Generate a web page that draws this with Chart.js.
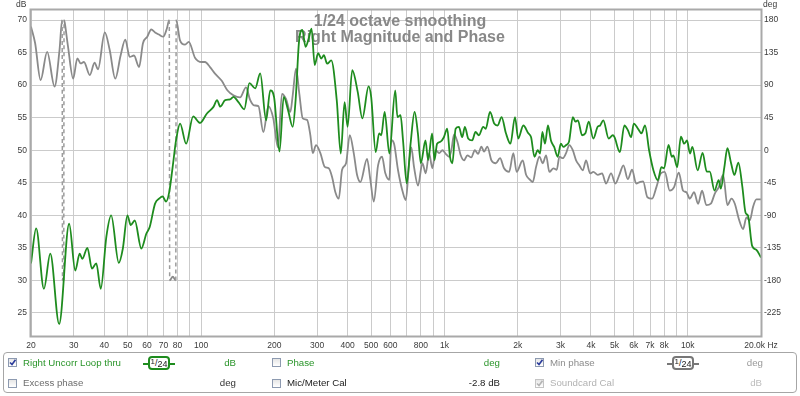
<!DOCTYPE html>
<html>
<head>
<meta charset="utf-8">
<script src="https://cdn.jsdelivr.net/npm/chart.js@4/dist/chart.umd.min.js"></script>
<style>
  body { margin: 0; background: #fff; }
  #wrap { position: relative; width: 800px; height: 396px; font-family: "Liberation Sans", Arial, sans-serif; }
  #c { position: absolute; left: 0; top: 0; }
  #panel { position: absolute; left: 3px; top: 352px; width: 794px; height: 41px; box-sizing: border-box;
           border: 1px solid #a6a6a6; border-radius: 4px; }
  .t { position: absolute; height: 12px; line-height: 12px; font-size: 9.7px; white-space: nowrap; }
  .r { text-align: right; }
  .cb { position: absolute; width: 9px; height: 9px; box-sizing: border-box; border: 1px solid #8d9ab0;
        background: linear-gradient(#e6e6e6, #ffffff); }
  .cb svg { position: absolute; left: 0; top: 0; }
  .badge { position: absolute; height: 14px; width: 22px; box-sizing: border-box; border: 2px solid #1e8c1e;
           border-radius: 4px; background: #fff; font-size: 9px; line-height: 10px; text-align: center; color: #222; }
  .badge .sup { position: relative; top: -2px; font-size: 8px; }
  .badge .sub { position: relative; top: 1px; }
  .stub { position: absolute; height: 2px; width: 5px; }
</style>
</head>
<body>
<div id="wrap">
  <canvas id="c" width="800" height="396"></canvas>
  <div id="panel"></div>

  <!-- row 1 -->
  <div class="cb" style="left:8px;top:358px"><svg width="7" height="7"><path d="M1 3.5 L3 5.5 L6.5 0.8" stroke="#2b3c9c" stroke-width="1.6" fill="none"/></svg></div>
  <div class="t" style="left:23px;top:357px;color:#2a952a">Right Uncorr Loop thru</div>
  <div class="stub" style="left:143px;top:362.5px;background:#1e8c1e"></div>
  <div class="badge" style="left:148px;top:356px"><span class="sup">1</span>/<span class="sub">24</span></div>
  <div class="stub" style="left:170px;top:362.5px;background:#1e8c1e"></div>
  <div class="t r" style="left:200px;width:36px;top:357px;color:#2a952a">dB</div>
  <div class="cb" style="left:272px;top:358px"></div>
  <div class="t" style="left:287px;top:357px;color:#2a952a">Phase</div>
  <div class="t r" style="left:460px;width:40px;top:357px;color:#2a952a">deg</div>
  <div class="cb" style="left:535px;top:358px"><svg width="7" height="7"><path d="M1 3.5 L3 5.5 L6.5 0.8" stroke="#2b3c9c" stroke-width="1.6" fill="none"/></svg></div>
  <div class="t" style="left:550px;top:357px;color:#8c8c8c">Min phase</div>
  <div class="stub" style="left:667px;top:362.5px;background:#777"></div>
  <div class="badge" style="left:672px;top:356px;border-color:#777"><span class="sup">1</span>/<span class="sub">24</span></div>
  <div class="stub" style="left:694px;top:362.5px;background:#777"></div>
  <div class="t r" style="left:720px;width:43px;top:357px;color:#999">deg</div>

  <!-- row 2 -->
  <div class="cb" style="left:8px;top:379px"></div>
  <div class="t" style="left:23px;top:377px;color:#6e6e6e">Excess phase</div>
  <div class="t r" style="left:200px;width:36px;top:377px;color:#333">deg</div>
  <div class="cb" style="left:272px;top:379px"></div>
  <div class="t" style="left:287px;top:377px;color:#222">Mic/Meter Cal</div>
  <div class="t r" style="left:440px;width:60px;top:377px;color:#222">-2.8 dB</div>
  <div class="cb" style="left:535px;top:379px;border-color:#c4c4c4"><svg width="7" height="7"><path d="M1 3.5 L3 5.5 L6.5 0.8" stroke="#b4b4b4" stroke-width="1.6" fill="none"/></svg></div>
  <div class="t" style="left:550px;top:377px;color:#b2b2b2">Soundcard Cal</div>
  <div class="t r" style="left:720px;width:42px;top:377px;color:#bdbdbd">dB</div>
</div>

<script>
// Right Uncorr Loop thru - magnitude (dB) and phase (deg), 1/24 octave smoothing

const titleLines = ["1/24 octave smoothing", "Right Magnitude and Phase"];

// magnitude trace (Hz / dB)
const magFreq = [20, 21, 22.6, 24, 26.1, 28.7, 30.4, 31.7, 32.5, 34.1, 35.6, 37.1, 38.7, 40.8, 42.7, 45.9, 47.7, 49.8, 51.4, 53.4,
  56.8, 59.6, 61.5, 64.7, 67.4, 69.5, 71.8, 74, 76.4, 78.9, 82, 86.8, 92.8, 99, 105.5, 112.6, 116.3, 119.9, 125.6, 131.7,
  135.8, 142.4, 150.5, 158, 166.9, 175, 185, 192.4, 199.4, 210, 218.6, 227.6, 238, 244.6, 252.6, 260.6, 268.8, 277, 284.4, 293,
  302.6, 312, 319.6, 329.7, 342.8, 361, 375, 388.8, 400, 418, 440, 460, 488, 500, 522, 539, 550, 568, 594, 628,
  641, 660, 676, 700, 726, 754, 778, 800, 836, 857, 890, 910, 933, 963, 995, 1027, 1054, 1078, 1112, 1147,
  1183, 1214, 1252, 1300, 1342, 1386, 1443, 1478, 1540, 1602, 1654, 1718, 1790, 1868, 1950, 2010, 2110, 2212, 2271, 2344,
  2418, 2472, 2527, 2590, 2664, 2740, 2825, 2921, 3010, 3084, 3166, 3250, 3372, 3454, 3536, 3680, 3796, 3917, 4092, 4264,
  4364, 4498, 4732, 4920, 5000, 5261, 5488, 5670, 5851, 6000, 6270, 6450, 6676, 6936, 7230, 7538, 7790, 7992, 8340, 8600,
  8728, 9050, 9370, 9670, 9930, 10210, 10448, 10980, 11510, 11970, 12318, 12880, 13400, 13672, 14140, 14550, 15070, 15550, 16140, 16750,
  17280, 17700, 18390, 19130, 20000];
const magDb = [32.6, 38.0, 28.7, 34.1, 23.3, 38.7, 31.5, 34.1, 33.3, 35.0, 31.8, 32.6, 28.7, 36.7, 40.0, 32.7, 34.9, 40.0, 38.5, 39.2,
  34.9, 37.2, 38.2, 41.8, 42.6, 42.9, 42.1, 43.6, 47.4, 51.5, 54.1, 51.0, 55.2, 54.2, 55.6, 56.7, 57.7, 56.7, 57.7, 57.8,
  58.2, 57.4, 56.3, 60.3, 59.5, 61.8, 54.6, 59.2, 58.2, 49.8, 58.2, 56.2, 53.6, 57.7, 66.7, 68.5, 65.9, 67.2, 68.7, 63.1,
  64.9, 64.1, 64.6, 63.3, 63.8, 57.7, 49.5, 57.4, 53.6, 62.3, 59.0, 54.9, 59.8, 58.2, 49.7, 52.6, 52.3, 55.9, 49.5, 59.2,
  55.1, 55.4, 51.5, 44.9, 51.0, 55.9, 52.6, 48.0, 51.5, 48.5, 52.6, 48.5, 51.0, 51.3, 52.0, 53.3, 49.0, 48.0, 53.3, 53.6,
  52.0, 53.6, 51.8, 51.5, 52.8, 52.3, 53.6, 53.3, 55.9, 54.1, 53.8, 55.1, 52.6, 51.0, 55.1, 51.8, 53.8, 52.6, 52.0, 49.0,
  50.0, 49.5, 52.8, 51.0, 53.8, 51.5, 50.5, 49.0, 51.0, 50.5, 50.8, 51.3, 55.1, 54.4, 54.6, 52.3, 52.6, 54.4, 51.8, 53.6,
  53.8, 54.6, 51.8, 52.3, 52.0, 49.7, 53.8, 53.1, 52.0, 54.1, 53.2, 52.6, 53.8, 50.0, 46.9, 45.4, 47.4, 47.2, 50.8, 49.0,
  49.2, 47.4, 52.1, 51.0, 51.5, 49.5, 50.5, 46.9, 49.6, 46.7, 46.7, 43.8, 45.4, 44.1, 47.4, 50.3, 48.0, 46.2, 48.1, 44.5,
  40.4, 39.9, 35.3, 34.7, 33.5];

// phase trace (Hz / deg), wraps at +/-180 shown dashed
const phaseFreq = [20, 20.8, 21.9, 23.3, 25, 26.2, 26.85, 26.95, 27.1, 27.25, 27.35, 27.5, 28.4, 29.8, 31, 32, 33, 34.9, 36.5, 37.7,
  40.2, 42.1, 44.4, 46.7, 48.8, 50.9, 53, 55.6, 57.7, 60.1, 62.4, 64.7, 67.1, 69.9, 72.3, 74, 74.3, 76.5, 78.7, 79,
  81.9, 85.9, 89, 94.4, 100.6, 103.8, 108.8, 114.1, 121.6, 128.2, 135.7, 144.6, 153, 158.9, 165, 172, 180.3, 189, 198, 207,
  215, 223.4, 232.7, 238, 245.6, 253.4, 261.7, 272.6, 281.2, 287.6, 296.8, 309.2, 322.2, 334.6, 345.4, 356.4, 368, 379.7, 394.3, 408.2,
  424, 437.4, 451.4, 480.9, 496.2, 512.4, 533.7, 554.2, 571.8, 594, 605, 621, 645, 672, 694, 716, 731, 750, 779, 812,
  838, 865, 892, 921, 951, 981, 1013, 1045, 1068, 1096, 1130, 1167, 1204, 1242, 1290, 1333, 1375, 1419, 1455, 1501,
  1560, 1626, 1693, 1758, 1844, 1920, 1980, 2098, 2166, 2234, 2307, 2381, 2457, 2536, 2617, 2700, 2806, 2896, 2968, 3066,
  3162, 3263, 3369, 3476, 3586, 3703, 3820, 3968, 4094, 4269, 4445, 4616, 4840, 5042, 5236, 5440, 5670, 5906, 6134, 6350,
  6554, 6826, 7136, 7433, 7749, 8046, 8435, 8786, 9187, 9570, 9872, 10196, 10617, 11027, 11452, 11929, 12440, 12917, 13417, 13976,
  14555, 15116, 15612, 16214, 16889, 17420, 17990, 18562, 19150, 20000];
const phaseDeg = [171, 148, 97, 136, 88, 139, 180, -180, -177, -180, 180, 177, 143, 99, 127, 120, 122, 104, 121, 112,
  163, 139, 99, 131, 153, 129, 131, 115, 148, 157, 167, 163, 160, 157, 168, 180, -180, -175, -180, 180,
  152, 146, 150, 128, 122, 122, 115, 106, 96, 83, 76, 73, 87, 70, 62, 61, 25, 61, 44, 4,
  78, 71, 53, 76, 113, 78, 44, 42, 21, -4, 7, -4, -23, -25, -37, -58, -67, -27, -18, 21,
  -4, -34, -44, -12, -41, -71, -21, -9, -32, -41, 14, 9, -28, -56, -69, -18, 4, -23, -49, -18,
  -32, -4, -25, 0, -4, 0, -5, -9, 0, 22, 12, -7, -14, -7, -10, 0, -5, 5, -2, 5,
  -14, -18, -11, -25, -30, -4, -30, -14, -34, -40, -44, -23, -9, -18, -7, -30, -25, -27, -9, -11,
  -4, 7, 0, -14, -21, -28, -14, -32, -30, -34, -32, -46, -32, -46, -34, -21, -40, -27, -46, -44,
  -43, -65, -67, -51, -32, -30, -56, -51, -31, -56, -58, -67, -58, -74, -56, -76, -74, -60, -51, -34,
  -76, -67, -74, -95, -109, -93, -97, -78, -68, -68];

// axes
const xTickValues = [20, 30, 40, 50, 60, 70, 80, 90, 100, 200, 300, 400, 500, 600, 700, 800, 900,
  1000, 2000, 3000, 4000, 5000, 6000, 7000, 8000, 9000, 10000, 20000];
const xTickLabels = ["20", "30", "40", "50", "60", "70", "80", "", "100", "200", "300", "400", "500", "600", "", "800", "",
  "1k", "2k", "3k", "4k", "5k", "6k", "7k", "8k", "", "10k", "20.0k Hz"];
const dbTicks = [25, 30, 35, 40, 45, 50, 55, 60, 65, 70];
const degTicks = [-225, -180, -135, -90, -45, 0, 45, 90, 135, 180];

const FONT = '"Liberation Sans", Arial, sans-serif';
const tickFont = { family: FONT, size: 8.5 };

function pairs(xs, ys) {
    return xs.map((x, i) => ({ x: x, y: ys[i] }));
}

// phase jump larger than half a turn = wrap
function isWrap(c) {
    return Math.abs(c.p1.parsed.y - c.p0.parsed.y) > 180;
}

const overlay = {
    id: "overlay",
    beforeDatasetsDraw(chart) {
        const ctx = chart.ctx;
        ctx.save();
        ctx.fillStyle = "#888888";
        ctx.font = "bold 16px " + FONT;
        ctx.textAlign = "center";
        ctx.textBaseline = "alphabetic";
        ctx.fillText(titleLines[0], 400, 26);
        ctx.fillText(titleLines[1], 400, 42);
        ctx.restore();
    },
    afterDraw(chart) {
        const ctx = chart.ctx;
        const a = chart.chartArea;
        ctx.save();
        // plot frame
        ctx.strokeStyle = "#a9a9a9";
        ctx.lineWidth = 2;
        ctx.strokeRect(a.left - 0.5, a.top - 0.5, a.right - a.left + 1, a.bottom - a.top + 1);
        // unit labels
        ctx.font = "8.5px " + FONT;
        ctx.fillStyle = "#3a3a3a";
        ctx.textBaseline = "middle";
        ctx.textAlign = "left";
        ctx.fillText("dB", 16, 4.5);
        ctx.fillText("deg", 763, 4.5);
        ctx.restore();
    }
};

new Chart(document.getElementById("c"), {
    type: "line",
    data: {
        datasets: [
            {
                label: "Right Uncorr Loop thru",
                data: pairs(magFreq, magDb),
                yAxisID: "y",
                borderColor: "#1e8c1e",
                borderWidth: 1.8,
                pointRadius: 0,
                cubicInterpolationMode: "monotone"
            },
            {
                label: "Min phase",
                data: pairs(phaseFreq, phaseDeg),
                yAxisID: "y2",
                borderColor: "#8a8a8a",
                borderWidth: 1.8,
                pointRadius: 0,
                cubicInterpolationMode: "monotone",
                segment: {
                    borderDash: c => isWrap(c) ? [4, 3] : undefined,
                    borderColor: c => isWrap(c) ? "#9c9c9c" : undefined,
                    borderWidth: c => isWrap(c) ? 1.5 : undefined
                }
            }
        ]
    },
    options: {
        responsive: false,
        animation: false,
        layout: { padding: { top: 10, left: 0, right: 0, bottom: 0 } },
        plugins: { legend: { display: false }, tooltip: { enabled: false } },
        scales: {
            x: {
                type: "logarithmic",
                min: 20,
                max: 20000,
                afterBuildTicks: s => { s.ticks = xTickValues.map(v => ({ value: v })); },
                afterFit: s => { s.height = 60; },
                ticks: {
                    autoSkip: false, maxRotation: 0, minRotation: 0, padding: 5,
                    font: tickFont, color: "#3a3a3a",
                    callback: (v, i) => xTickLabels[i]
                },
                grid: { color: "#cbcbcb", lineWidth: 1, drawTicks: false },
                border: { display: false }
            },
            y: {
                position: "left",
                min: 21.45,
                max: 71.55,
                afterBuildTicks: s => { s.ticks = dbTicks.map(v => ({ value: v })); },
                afterFit: s => { s.width = 31; },
                ticks: { padding: 4, font: tickFont, color: "#3a3a3a", callback: v => String(v) },
                grid: { color: "#cbcbcb", lineWidth: 1, drawTicks: false },
                border: { display: false }
            },
            y2: {
                position: "right",
                min: -256.95,
                max: 193.95,
                afterBuildTicks: s => { s.ticks = degTicks.map(v => ({ value: v })); },
                afterFit: s => { s.width = 39; },
                ticks: { padding: 3, font: tickFont, color: "#3a3a3a", callback: v => String(v) },
                grid: { display: false, drawTicks: false },
                border: { display: false }
            }
        }
    },
    plugins: [overlay]
});
</script>
</body>
</html>
